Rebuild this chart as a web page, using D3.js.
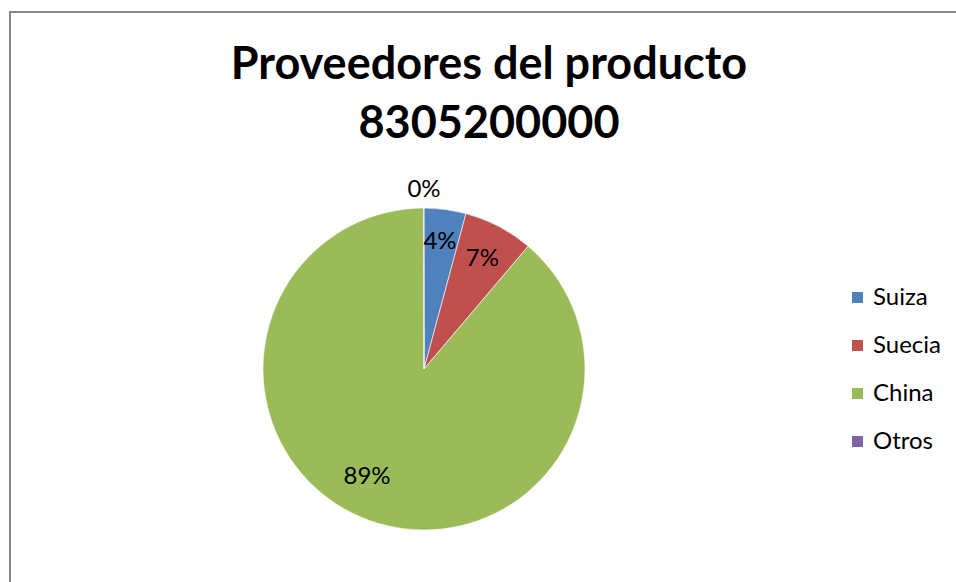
<!DOCTYPE html>
<html><head><meta charset="utf-8">
<script src="https://cdn.jsdelivr.net/npm/d3@7"></script>
<style>body{margin:0;background:#fff}svg{display:block}text{font-family:Lato,"Open Sans",sans-serif}</style>
</head><body>
<svg id="c" width="956" height="582"></svg>
<script>
const categories = ["Suiza", "Suecia", "China", "Otros"];
const values = [4.2, 7.0, 88.75, 0.05];
const labels = ["4%", "7%", "89%", "0%"];
const colors = ["#4F81BD", "#C0504D", "#9BBB59", "#8064A2"];
const titleLines = ["Proveedores del producto", "8305200000"];

const svg = d3.select("#c");
svg.append("rect").attr("x", 10).attr("y", 12).attr("width", 960).attr("height", 600)
  .attr("fill", "#fff").attr("stroke", "#868686").attr("stroke-width", 2);

svg.append("g").selectAll("text").data(titleLines).join("text")
  .attr("x", 489).attr("y", (d, i) => 79 + i * 59)
  .attr("text-anchor", "middle").attr("font-size", 45).attr("font-weight", "bold")
  .attr("fill", "#000").text(d => d);

const cx = 424, cy = 369, r = 161;
const pie = d3.pie().sort(null).value(d => d.v);
const arcs = pie(categories.map((c, i) => ({c, v: values[i], l: labels[i], col: colors[i]})));
const arc = d3.arc().innerRadius(0).outerRadius(r);
const g = svg.append("g").attr("transform", `translate(${cx},${cy})`);
g.selectAll("path").data(arcs).join("path").attr("d", arc)
  .attr("fill", d => d.data.col).attr("stroke", "#fff").attr("stroke-width", 0.6);

const labelArc = d3.arc().innerRadius(r * 0.78).outerRadius(r * 0.78);
g.selectAll("text.l").data(arcs).join("text").attr("class", "l")
  .attr("transform", d => {
    let p;
    if (d.data.c === "Otros") p = [0, -180];
    else if (d.data.c === "China") p = [-57, 107];
    else if (d.data.c === "Suiza") p = [16, -128];
    else p = labelArc.centroid(d);
    return `translate(${p[0]},${p[1]})`;
  })
  .attr("text-anchor", "middle").attr("dy", "0.35em").attr("font-size", 24)
  .attr("fill", "#000").text(d => d.data.l);

const leg = svg.append("g").selectAll("g").data(categories).join("g")
  .attr("transform", (d, i) => `translate(852,${297 + i * 48})`);
leg.append("rect").attr("x", 0).attr("y", -5).attr("width", 11).attr("height", 11)
  .attr("fill", (d, i) => colors[i]);
leg.append("text").attr("x", 21).attr("y", 0).attr("dy", "0.35em")
  .attr("font-size", 24).attr("fill", "#000").text(d => d);
</script>
</body></html>
